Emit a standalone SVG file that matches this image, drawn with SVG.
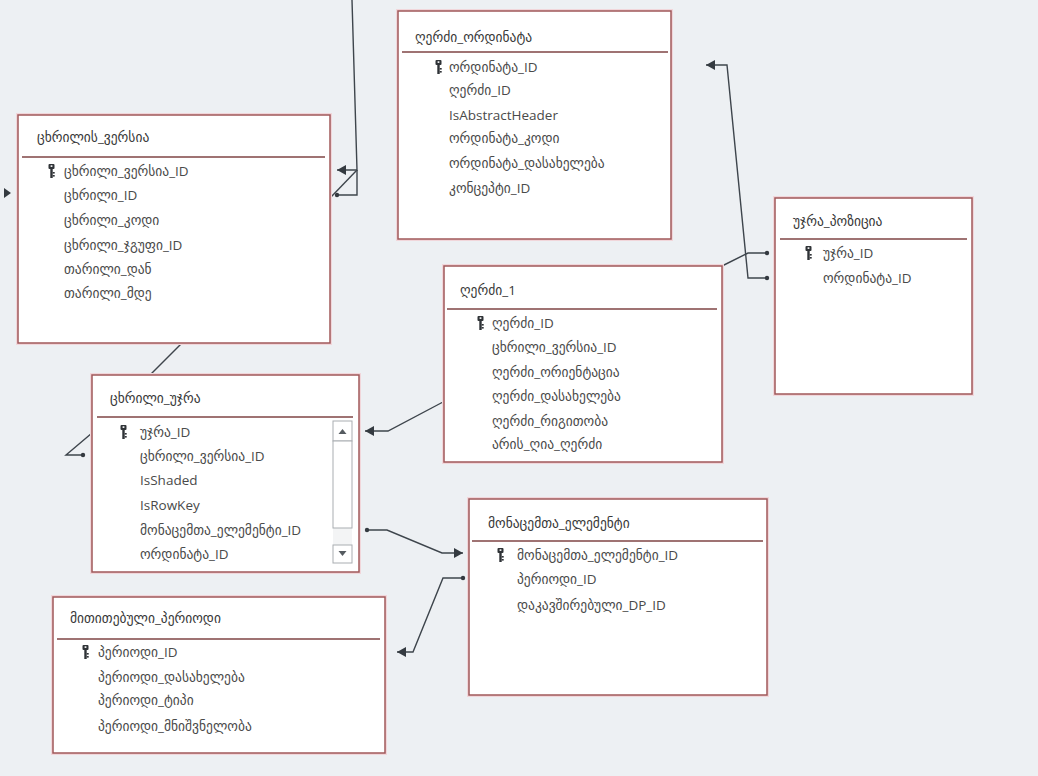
<svg xmlns="http://www.w3.org/2000/svg" width="1038" height="776" viewBox="0 0 1038 776">
  <defs>
    <style>
      .tbl-glow { fill: none; stroke: #f1d6da; stroke-width: 4; }
      .tbl { fill: #ffffff; stroke: #a0585a; stroke-width: 1.5; }
      .sep { stroke: #7f4445; stroke-width: 1.3; }
      .title { font-family: "Open Sans", "DejaVu Sans", sans-serif; font-size: 13.5px; fill: #383838; }
      .fld { font-family: "Open Sans", "DejaVu Sans", sans-serif; font-size: 13.5px; fill: #4a4a4a; }
      .conn { fill: none; stroke: #3e454c; stroke-width: 1.4; }
      .sb { fill: #ffffff; stroke: #a9adb1; stroke-width: 1; }
    </style>
    <marker id="arrow" markerUnits="userSpaceOnUse" markerWidth="10" markerHeight="10" refX="9" refY="5" orient="auto">
      <path d="M0,0 L9,5 L0,10 z" fill="#343a40"/>
    </marker>
    <marker id="dot" markerUnits="userSpaceOnUse" markerWidth="6" markerHeight="6" refX="3" refY="3" orient="auto">
      <circle cx="3" cy="3" r="2.2" fill="#343a40"/>
    </marker>
    <!-- primary key glyph -->
    <symbol id="key" viewBox="0 0 7 14" width="7" height="14">
      <rect x="0.5" y="0" width="6" height="5" rx="1" fill="#2f3337"/>
      <rect x="2.6" y="1.3" width="1.8" height="1.6" fill="#ffffff"/>
      <rect x="2.3" y="5" width="2.4" height="9" fill="#2f3337"/>
      <rect x="4.7" y="8" width="2" height="1.6" fill="#2f3337"/>
      <rect x="4.7" y="11" width="2" height="1.6" fill="#2f3337"/>
    </symbol>
  </defs>

  <rect x="0" y="0" width="1038" height="776" fill="#edf0f3"/>

  <!-- relationship lines -->
  <g id="connectors">
    <polyline class="conn" points="352,0 357,170 337,170" marker-end="url(#arrow)"/>
    <polyline class="conn" points="357,170 357,195 337,195" marker-end="url(#dot)"/>
    <line class="conn" x1="357" y1="170" x2="331" y2="197"/>
    <path d="M4,188 L11,193 L4,198 z" fill="#343a40"/>
    <line class="conn" x1="182" y1="343" x2="150" y2="375"/>
    <polyline class="conn" points="92,433 66,455 83,455" marker-end="url(#dot)"/>
    <polyline class="conn" points="443,402 388,431 365,431" marker-end="url(#arrow)"/>
    <polyline class="conn" points="367,530 387,530 442,553 463,553" marker-start="url(#dot)" marker-end="url(#arrow)"/>
    <polyline class="conn" points="463,578 443,578 413,652 397,652" marker-start="url(#dot)" marker-end="url(#arrow)"/>
    <polyline class="conn" points="722,266 748,253 767,253" marker-end="url(#dot)"/>
    <polyline class="conn" points="767,278 748,278 727,65 706,65" marker-start="url(#dot)" marker-end="url(#arrow)"/>
  </g>

  <!-- ღერძი_ორდინატა -->
  <g id="tbl-axis-ordinate">
    <rect class="tbl-glow" x="398" y="11" width="273" height="228"/>
    <rect class="tbl" x="398" y="11" width="273" height="228"/>
    <text class="title" x="415" y="42">ღერძი_ორდინატა</text>
    <line class="sep" x1="402" y1="52" x2="668" y2="52"/>
    <use href="#key" x="435" y="60"/>
    <text class="fld" x="449" y="72">ორდინატა_ID</text>
    <text class="fld" x="449" y="95">ღერძი_ID</text>
    <text class="fld" x="449" y="120">IsAbstractHeader</text>
    <text class="fld" x="449" y="143">ორდინატა_კოდი</text>
    <text class="fld" x="449" y="168">ორდინატა_დასახელება</text>
    <text class="fld" x="449" y="193">კონცეპტი_ID</text>
  </g>

  <!-- ცხრილის_ვერსია -->
  <g id="tbl-table-version">
    <rect class="tbl-glow" x="18" y="115" width="312" height="228"/>
    <rect class="tbl" x="18" y="115" width="312" height="228"/>
    <text class="title" x="37" y="142">ცხრილის_ვერსია</text>
    <line class="sep" x1="22" y1="157" x2="325" y2="157"/>
    <use href="#key" x="48" y="164"/>
    <text class="fld" x="64" y="176">ცხრილი_ვერსია_ID</text>
    <text class="fld" x="64" y="200">ცხრილი_ID</text>
    <text class="fld" x="64" y="225">ცხრილი_კოდი</text>
    <text class="fld" x="64" y="250">ცხრილი_ჯგუფი_ID</text>
    <text class="fld" x="64" y="274">თარილი_დან</text>
    <text class="fld" x="64" y="298">თარილი_მდე</text>
  </g>

  <!-- ღერძი_1 -->
  <g id="tbl-axis">
    <rect class="tbl-glow" x="444" y="266" width="278" height="196"/>
    <rect class="tbl" x="444" y="266" width="278" height="196"/>
    <text class="title" x="460" y="295">ღერძი_1</text>
    <line class="sep" x1="447" y1="309" x2="717" y2="309"/>
    <use href="#key" x="477" y="316"/>
    <text class="fld" x="492" y="328">ღერძი_ID</text>
    <text class="fld" x="492" y="352">ცხრილი_ვერსია_ID</text>
    <text class="fld" x="492" y="377">ღერძი_ორიენტაცია</text>
    <text class="fld" x="492" y="401">ღერძი_დასახელება</text>
    <text class="fld" x="492" y="426">ღერძი_რიგითობა</text>
    <text class="fld" x="492" y="449">არის_ღია_ღერძი</text>
  </g>

  <!-- უჯრა_პოზიცია -->
  <g id="tbl-cell-position">
    <rect class="tbl-glow" x="775" y="198" width="197" height="196"/>
    <rect class="tbl" x="775" y="198" width="197" height="196"/>
    <text class="title" x="793" y="226">უჯრა_პოზიცია</text>
    <line class="sep" x1="780" y1="239" x2="967" y2="239"/>
    <use href="#key" x="805" y="246"/>
    <text class="fld" x="823" y="258">უჯრა_ID</text>
    <text class="fld" x="823" y="283">ორდინატა_ID</text>
  </g>

  <!-- ცხრილი_უჯრა -->
  <g id="tbl-table-cell">
    <rect class="tbl-glow" x="92" y="375" width="267" height="197"/>
    <rect class="tbl" x="92" y="375" width="267" height="197"/>
    <text class="title" x="110" y="403">ცხრილი_უჯრა</text>
    <line class="sep" x1="97" y1="417" x2="353" y2="417"/>
    <use href="#key" x="120" y="425"/>
    <text class="fld" x="140" y="437">უჯრა_ID</text>
    <text class="fld" x="140" y="461">ცხრილი_ვერსია_ID</text>
    <text class="fld" x="140" y="485">IsShaded</text>
    <text class="fld" x="140" y="510">IsRowKey</text>
    <text class="fld" x="140" y="535">მონაცემთა_ელემენტი_ID</text>
    <text class="fld" x="140" y="559">ორდინატა_ID</text>
    <!-- scroll bar -->
    <rect x="333" y="421" width="19" height="142" fill="#f3f4f5"/>
    <rect class="sb" x="333" y="421" width="19" height="20"/>
    <path d="M338.5,434 L342.5,429 L346.5,434 z" fill="#555b60"/>
    <rect class="sb" x="333" y="441" width="19" height="87"/>
    <rect class="sb" x="333" y="545" width="19" height="18"/>
    <path d="M338.5,551 L342.5,556 L346.5,551 z" fill="#555b60"/>
  </g>

  <!-- მონაცემთა_ელემენტი -->
  <g id="tbl-data-element">
    <rect class="tbl-glow" x="469" y="499" width="298" height="196"/>
    <rect class="tbl" x="469" y="499" width="298" height="196"/>
    <text class="title" x="488" y="528">მონაცემთა_ელემენტი</text>
    <line class="sep" x1="472" y1="541" x2="763" y2="541"/>
    <use href="#key" x="497" y="548"/>
    <text class="fld" x="517" y="560">მონაცემთა_ელემენტი_ID</text>
    <text class="fld" x="517" y="584">პერიოდი_ID</text>
    <text class="fld" x="517" y="610">დაკავშირებული_DP_ID</text>
  </g>

  <!-- მითითებული_პერიოდი -->
  <g id="tbl-period">
    <rect class="tbl-glow" x="53" y="597" width="332" height="156"/>
    <rect class="tbl" x="53" y="597" width="332" height="156"/>
    <text class="title" x="70" y="623">მითითებული_პერიოდი</text>
    <line class="sep" x1="57" y1="639" x2="380" y2="639"/>
    <use href="#key" x="82" y="645"/>
    <text class="fld" x="98" y="657">პერიოდი_ID</text>
    <text class="fld" x="98" y="682">პერიოდი_დასახელება</text>
    <text class="fld" x="98" y="705">პერიოდი_ტიპი</text>
    <text class="fld" x="98" y="731">პერიოდი_მნიშვნელობა</text>
  </g>
</svg>
